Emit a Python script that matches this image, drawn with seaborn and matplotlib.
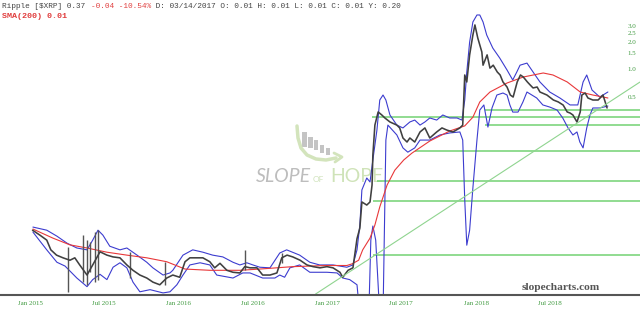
import numpy as np
import pandas as pd
import matplotlib
matplotlib.use("Agg")
import matplotlib.pyplot as plt
import matplotlib.dates as mdates
from matplotlib.patches import Rectangle
from matplotlib.ticker import NullLocator, NullFormatter
import seaborn as sns

# ---------------- data ----------------
close_dates = ["2015-01-06", "2015-01-24", "2015-02-10", "2015-02-20", "2015-03-06", "2015-03-22",
               "2015-04-08", "2015-04-20", "2015-05-02", "2015-05-20", "2015-06-03", "2015-06-21",
               "2015-07-08", "2015-07-23", "2015-08-09", "2015-08-26", "2015-09-10", "2015-09-27",
               "2015-10-14", "2015-10-29", "2015-11-15", "2015-12-02", "2015-12-17", "2016-01-03",
               "2016-01-16", "2016-01-28", "2016-02-14", "2016-02-29", "2016-03-17", "2016-03-29",
               "2016-04-11", "2016-04-28", "2016-05-13", "2016-05-30", "2016-06-11", "2016-06-24",
               "2016-07-11", "2016-07-25", "2016-08-12", "2016-08-29", "2016-09-10", "2016-09-23",
               "2016-10-07", "2016-10-25", "2016-11-11", "2016-11-26", "2016-12-13", "2016-12-30",
               "2017-01-14", "2017-01-31", "2017-02-07", "2017-02-20", "2017-03-04", "2017-03-14",
               "2017-03-21", "2017-03-26", "2017-04-07", "2017-04-15", "2017-04-20", "2017-04-22",
               "2017-04-27", "2017-05-05", "2017-05-14", "2017-05-22", "2017-06-03", "2017-06-20",
               "2017-06-27", "2017-07-05", "2017-07-15", "2017-07-22", "2017-08-03", "2017-08-16",
               "2017-08-28", "2017-09-09", "2017-09-26", "2017-10-09", "2017-10-21", "2017-11-05",
               "2017-11-22", "2017-11-29", "2017-12-04", "2017-12-09", "2017-12-16", "2017-12-24",
               "2017-12-29", "2018-01-05", "2018-01-15", "2018-01-18", "2018-01-28", "2018-02-04",
               "2018-02-12", "2018-02-22", "2018-03-01", "2018-03-08", "2018-03-18", "2018-03-26",
               "2018-04-02", "2018-04-12", "2018-04-20", "2018-04-27", "2018-05-07", "2018-05-14",
               "2018-05-21", "2018-05-31", "2018-06-07", "2018-06-24", "2018-07-10", "2018-07-22",
               "2018-08-03", "2018-08-13", "2018-08-20", "2018-08-27", "2018-09-06", "2018-09-14",
               "2018-09-18", "2018-09-26", "2018-10-03", "2018-10-15", "2018-10-28", "2018-11-09",
               "2018-11-19"]
close_vals = [0.0171, 0.0151, 0.0133, 0.0104, 0.0091, 0.0085,
              0.0080, 0.0085, 0.0071, 0.0055, 0.0071, 0.0099,
              0.0091, 0.0087, 0.0085, 0.0071, 0.0062, 0.0055,
              0.0051, 0.0046, 0.0043, 0.0051, 0.0055, 0.0052,
              0.0077, 0.0085, 0.0085, 0.0085, 0.0077, 0.0066,
              0.0074, 0.0062, 0.0059, 0.0058, 0.0068, 0.0066,
              0.0066, 0.0055, 0.0055, 0.0058, 0.0085, 0.0091,
              0.0087, 0.0080, 0.0071, 0.0068, 0.0066, 0.0068,
              0.0066, 0.0059, 0.0052, 0.0062, 0.0066, 0.0138,
              0.0180, 0.0349, 0.0323, 0.0349, 0.0536, 0.114,
              0.244, 0.340, 0.315, 0.291, 0.264, 0.244,
              0.227, 0.176, 0.159, 0.176, 0.159, 0.205,
              0.227, 0.176, 0.205, 0.227, 0.215, 0.205,
              0.227, 0.244, 0.866, 0.726, 1.44, 2.38,
              3.07, 2.21, 1.55, 1.11, 1.44, 1.03,
              1.11, 0.934, 0.866, 0.726, 0.639, 0.522,
              0.496, 0.726, 0.866, 0.823, 0.726, 0.672,
              0.624, 0.639, 0.563, 0.522, 0.460, 0.438,
              0.405, 0.340, 0.331, 0.315, 0.264, 0.340,
              0.522, 0.549, 0.484, 0.460, 0.460, 0.522,
              0.376]

spike_dates = ["2015-04-04", "2015-05-11", "2015-05-20", "2015-05-27", "2015-06-08", "2015-06-16",
               "2015-09-03", "2015-11-27", "2016-06-11", "2016-09-10"]
spike_lows = [0.0036, 0.0046, 0.0043, 0.0059, 0.0046, 0.0049, 0.0051, 0.0043, 0.0062, 0.0075]
spike_highs = [0.0112, 0.0151, 0.0133, 0.0126, 0.0165, 0.0171, 0.0099, 0.0077, 0.0104, 0.0097]

sma_dates = ["2015-01-07", "2015-02-25", "2015-04-08", "2015-05-20", "2015-07-08", "2015-08-26",
             "2015-10-14", "2015-12-02", "2016-01-16", "2016-03-17", "2016-05-30", "2016-07-18",
             "2016-10-07", "2016-12-30", "2017-02-17", "2017-03-02", "2017-03-18", "2017-03-28",
             "2017-04-15", "2017-04-27", "2017-05-09", "2017-05-27", "2017-06-15", "2017-07-07",
             "2017-07-27", "2017-09-09", "2017-10-28", "2017-12-04", "2017-12-24", "2018-01-10",
             "2018-02-04", "2018-03-18", "2018-04-27", "2018-06-15", "2018-07-09", "2018-08-13",
             "2018-09-14", "2018-10-15", "2018-11-21"]
sma_vals = [0.0176, 0.0140, 0.0118, 0.0109, 0.0098, 0.0091,
            0.0085, 0.0077, 0.0064, 0.0062, 0.0062, 0.0064,
            0.0068, 0.0070, 0.0070, 0.0073, 0.0080, 0.0104,
            0.0140, 0.0195, 0.0308, 0.0536, 0.078, 0.101,
            0.120, 0.163, 0.210, 0.239, 0.298, 0.438,
            0.563, 0.707, 0.823, 0.911, 0.866, 0.726,
            0.563, 0.522, 0.484]

upper_dates = ["2015-01-07", "2015-02-10", "2015-03-07", "2015-04-01", "2015-04-25", "2015-05-20",
               "2015-06-03", "2015-06-16", "2015-06-28", "2015-07-15", "2015-08-09", "2015-08-26",
               "2015-09-20", "2015-10-14", "2015-10-29", "2015-11-23", "2015-12-10", "2015-12-17",
               "2016-01-11", "2016-02-04", "2016-02-29", "2016-03-24", "2016-04-18", "2016-05-13",
               "2016-05-30", "2016-06-16", "2016-07-01", "2016-07-18", "2016-08-12", "2016-09-05",
               "2016-09-22", "2016-10-24", "2016-11-18", "2016-12-12", "2017-01-14", "2017-02-17",
               "2017-03-04", "2017-03-14", "2017-03-21", "2017-03-26", "2017-04-07", "2017-04-15",
               "2017-04-22", "2017-05-02", "2017-05-09", "2017-05-17", "2017-05-24", "2017-06-03",
               "2017-06-20", "2017-07-05", "2017-07-22", "2017-08-03", "2017-08-16", "2017-08-28",
               "2017-09-09", "2017-09-26", "2017-10-11", "2017-10-28", "2017-11-15", "2017-11-27",
               "2017-12-04", "2017-12-09", "2017-12-16", "2017-12-24", "2018-01-03", "2018-01-10",
               "2018-01-18", "2018-01-27", "2018-02-11", "2018-02-28", "2018-03-18", "2018-04-01",
               "2018-04-11", "2018-04-19", "2018-05-06", "2018-05-21", "2018-06-07", "2018-07-01",
               "2018-07-26", "2018-08-20", "2018-09-08", "2018-09-21", "2018-09-30", "2018-10-13",
               "2018-11-01", "2018-11-21"]
upper_vals = [0.0185, 0.0171, 0.0147, 0.0123, 0.0109, 0.0104,
              0.0133, 0.0171, 0.0151, 0.0114, 0.0104, 0.0109,
              0.0091, 0.0076, 0.0066, 0.0055, 0.0058, 0.0062,
              0.0091, 0.0104, 0.0098, 0.0091, 0.0087, 0.0076,
              0.0071, 0.0075, 0.0071, 0.0067, 0.0066, 0.0096,
              0.0104, 0.0091, 0.0076, 0.0071, 0.0071, 0.0067,
              0.0071, 0.0104, 0.0195, 0.0473, 0.0640, 0.0579,
              0.101, 0.215, 0.460, 0.522, 0.460, 0.315,
              0.244, 0.227, 0.264, 0.277, 0.244, 0.264,
              0.292, 0.277, 0.315, 0.292, 0.292, 0.277,
              0.460, 0.934, 1.99, 3.31, 3.95, 3.95,
              3.31, 2.38, 1.71, 1.33, 0.982, 0.763,
              0.934, 1.11, 1.17, 0.934, 0.725, 0.563,
              0.484, 0.406, 0.406, 0.725, 0.866, 0.592,
              0.496, 0.563]

lower_dates = ["2015-01-07", "2015-02-10", "2015-03-07", "2015-03-27", "2015-04-25", "2015-05-20",
               "2015-06-03", "2015-06-21", "2015-07-08", "2015-07-23", "2015-08-09", "2015-08-26",
               "2015-09-10", "2015-09-27", "2015-10-22", "2015-11-23", "2015-12-10", "2015-12-27",
               "2016-01-11", "2016-01-28", "2016-02-22", "2016-03-17", "2016-04-03", "2016-05-13",
               "2016-06-06", "2016-06-24", "2016-07-25", "2016-08-24", "2016-09-05", "2016-09-17",
               "2016-09-30", "2016-10-24", "2016-11-18", "2016-12-30", "2017-01-24", "2017-02-07",
               "2017-02-24", "2017-03-14", "2017-03-21", "2017-04-12", "2017-04-17", "2017-04-22",
               "2017-04-29", "2017-05-09", "2017-05-17", "2017-05-24", "2017-05-29", "2017-06-20",
               "2017-07-05", "2017-07-17", "2017-08-03", "2017-08-16", "2017-09-09", "2017-10-04",
               "2017-10-28", "2017-11-22", "2017-11-29", "2017-12-04", "2017-12-09", "2017-12-16",
               "2017-12-24", "2018-01-03", "2018-01-10", "2018-01-20", "2018-01-30", "2018-02-09",
               "2018-02-21", "2018-03-08", "2018-03-18", "2018-03-25", "2018-04-01", "2018-04-14",
               "2018-04-26", "2018-05-06", "2018-05-18", "2018-05-30", "2018-06-14", "2018-07-01",
               "2018-07-19", "2018-08-02", "2018-08-15", "2018-08-27", "2018-09-06", "2018-09-13",
               "2018-09-21", "2018-09-30", "2018-10-08", "2018-10-15", "2018-11-01", "2018-11-21"]
lower_vals = [0.0163, 0.0104, 0.0076, 0.0069, 0.0051, 0.0041,
              0.0049, 0.0056, 0.0049, 0.0067, 0.0075, 0.0066,
              0.0046, 0.0036, 0.0038, 0.0035, 0.0036, 0.0043,
              0.0055, 0.0071, 0.0075, 0.0071, 0.0055, 0.0051,
              0.0058, 0.0058, 0.0051, 0.0051, 0.0055, 0.0052,
              0.0066, 0.0071, 0.0059, 0.0059, 0.0058, 0.0051,
              0.0049, 0.0043, 0.0020, 0.0020, 0.0133, 0.0190,
              0.0133, 0.0020, 0.0020, 0.167, 0.244, 0.190,
              0.137, 0.123, 0.137, 0.167, 0.167, 0.190,
              0.200, 0.205, 0.167, 0.0367, 0.0117, 0.0171,
              0.0498, 0.167, 0.357, 0.406, 0.232, 0.376,
              0.522, 0.549, 0.522, 0.406, 0.339, 0.339,
              0.437, 0.563, 0.522, 0.484, 0.406, 0.385,
              0.357, 0.292, 0.227, 0.190, 0.205, 0.159,
              0.137, 0.227, 0.315, 0.376, 0.376, 0.395]

level_vals = [0.357, 0.299, 0.244, 0.127, 0.059, 0.036, 0.0091]
level_starts = ["2018-01-22", "2017-04-20", "2018-01-22", "2017-08-03", "2017-05-02", "2017-04-22", "2017-04-22"]

trend_dates = ["2016-12-02", "2019-02-08"]
trend_vals = [0.0034, 0.725]

xtick_dates = ["2015-01-01", "2015-07-01", "2016-01-01", "2016-07-01",
               "2017-01-01", "2017-07-01", "2018-01-01", "2018-07-01"]
xtick_labels = ["Jan 2015", "Jul 2015", "Jan 2016", "Jul 2016",
                "Jan 2017", "Jul 2017", "Jan 2018", "Jul 2018"]
ytick_vals = [0.5, 1.0, 1.5, 2.0, 2.5, 3.0]
ytick_labels = ["0.5", "1.0", "1.5", "2.0", "2.5", "3.0"]

header_main = "Ripple [$XRP] 0.37 "
header_chg = "-0.04 -10.54%"
header_rest = " D: 03/14/2017 O: 0.01 H: 0.01 L: 0.01 C: 0.01 Y: 0.20"
header_sma = "SMA(200) 0.01"

# ---------------- drawing ----------------
sns.set_style("white")
W, H = 640, 313
fig = plt.figure(figsize=(6.4, 3.13), dpi=100)
fig.patch.set_facecolor("white")

over = fig.add_axes([0, 0, 1, 1], zorder=0)
over.set_xlim(0, W)
over.set_ylim(H, 0)
over.axis("off")

ax = fig.add_axes([0, 18 / H, 1, 295 / H], zorder=1)
ax.set_facecolor("none")

def frame(d, v):
    return pd.DataFrame({"date": pd.to_datetime(d), "value": v})

GREEN = "#7ed67e"
sns.lineplot(data=frame(lower_dates, lower_vals), x="date", y="value", ax=ax,
             color="#3c3ccf", lw=0.8, sort=False)
sns.lineplot(data=frame(upper_dates, upper_vals), x="date", y="value", ax=ax,
             color="#3c3ccf", lw=0.8, sort=False)
sns.lineplot(data=frame(sma_dates, sma_vals), x="date", y="value", ax=ax,
             color="#e8383a", lw=0.8, sort=False)
ax.vlines(mdates.date2num(pd.to_datetime(spike_dates)), spike_lows, spike_highs,
          color="#555555", lw=1.0)
sns.lineplot(data=frame(close_dates, close_vals), x="date", y="value", ax=ax,
             color="#404040", lw=1.15, sort=False)

ax.set_yscale("log")
x0 = mdates.date2num(pd.Timestamp("2014-10-18"))
x1 = mdates.date2num(pd.Timestamp("2019-02-08"))
ax.set_xlim(x0, x1)
ax.set_ylim(0.00332, 5.77)

for v, s in zip(level_vals, level_starts):
    ax.hlines(v, mdates.date2num(pd.Timestamp(s)), x1, color=GREEN, lw=1.2, zorder=1)
sns.lineplot(data=frame(trend_dates, trend_vals), x="date", y="value", ax=ax,
             color="#8fd48f", lw=0.8, sort=False)

ax.set_xlabel("")
ax.set_ylabel("")
ax.yaxis.tick_right()
ax.set_yticks(ytick_vals)
ax.set_yticklabels(ytick_labels)
ax.yaxis.set_minor_locator(NullLocator())
ax.yaxis.set_minor_formatter(NullFormatter())
ax.set_xticks(mdates.date2num(pd.to_datetime(xtick_dates)))
ax.set_xticklabels(xtick_labels)
ax.tick_params(axis="y", length=0, pad=-9, labelsize=5, labelcolor="#3f9a3f")
ax.tick_params(axis="x", length=0, pad=4, labelsize=5, labelcolor="#3f9a3f")
for lbl in ax.get_xticklabels() + ax.get_yticklabels():
    lbl.set_fontfamily("Liberation Serif")
for sp in ["top", "left", "right"]:
    ax.spines[sp].set_visible(False)
ax.spines["bottom"].set_color("#555555")
ax.spines["bottom"].set_linewidth(1.5)

# watermark
bars = [(302, 132, 4.5, 15), (308, 137, 4.5, 10.5), (314, 140, 4.2, 10), (320, 145, 4, 8), (326, 148, 3.5, 7)]
for bx, by, bw, bh in bars:
    over.add_patch(Rectangle((bx, by), bw, bh, color="#c4c4c4", lw=0))
sw_x = [297, 298, 301, 307, 316, 326, 336]
sw_y = [126, 138, 148, 155, 159, 160, 158]
over.plot(sw_x, sw_y, color="#d3e4bc", lw=2.5, solid_capstyle="round")
over.plot([334, 342, 335], [153, 157, 162], color="#d3e4bc", lw=2.0)
over.text(256, 177, "SLOPE", fontsize=14, color="#bdbdbd", style="italic",
          family="Lato", va="center", ha="left")
over.text(313, 179, "OF", fontsize=6, color="#cfe2bb", family="Lato", va="center", ha="left")
over.text(330, 177, "HOPE", fontsize=14, color="#cfe3b8", family="Lato",
          va="center", ha="left")

over.text(522, 287, "slopecharts.com", fontsize=8.2, fontweight="bold",
          family="Liberation Serif", color="#555555", va="center", ha="left")

# header
cw = 0.6 * 5.6 * 100 / 72
over.text(2, 6, header_main, fontsize=5.6, family="Liberation Mono", color="#444444", va="center")
over.text(2 + len(header_main) * cw, 6, header_chg, fontsize=5.6, family="Liberation Mono",
          color="#e04040", va="center")
over.text(2 + (len(header_main) + len(header_chg)) * cw, 6, header_rest, fontsize=5.6,
          family="Liberation Mono", color="#444444", va="center")
over.text(2, 16, header_sma, fontsize=6.0, family="Liberation Mono", fontweight="bold",
          color="#e03c3c", va="center")

fig.savefig("out.png", dpi=100)
